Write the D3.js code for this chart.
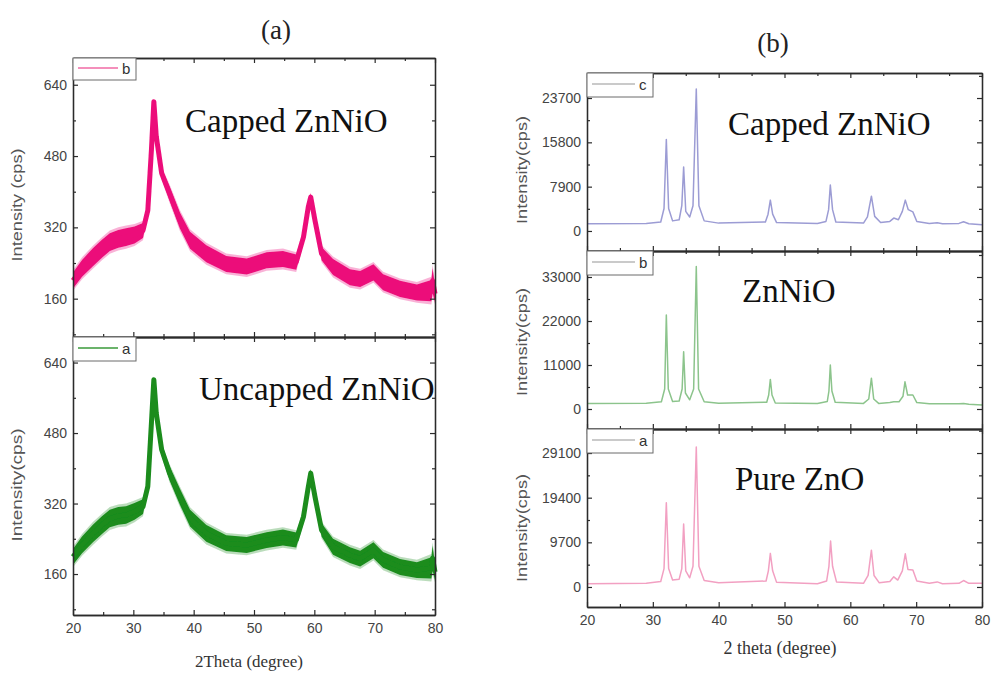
<!DOCTYPE html>
<html>
<head>
<meta charset="utf-8">
<script src="https://cdn.jsdelivr.net/npm/d3@7"></script>
<style>
  html, body { margin: 0; padding: 0; background: #fff; }
  svg { display: block; }
  .tick text { font-family: "Liberation Sans", Arial, sans-serif; }
</style>
</head>
<body>
<div id="chart"></div>
<script>
// ---- data ----
// left panel (a): broad, noisy patterns -> centre line + half thickness of the noise band
const leftTheta    = [20, 21.5, 23.3, 24.8, 26.1, 27.5, 28.8, 30.2, 31.6, 32.4, 33.0, 33.4, 33.8, 34.7, 36.0, 37.7, 39.4, 42.1, 45.4, 48.8, 52.1, 54.8, 57.0, 58.2, 59.0, 59.4, 60.1, 61.2, 63.1, 65.9, 67.6, 69.8, 71.4, 74.2, 77.0, 79.4, 79.6, 80];
const cappedMid    = [201, 228, 253, 272, 287, 294, 298, 303, 313, 358, 494, 602, 524, 441, 396, 336, 291, 261, 238, 232, 246, 249, 242, 298, 366, 388, 336, 261, 231, 208, 204, 219, 197, 182, 174, 178, 200, 171];
const uncappedMid  = [199, 226, 252, 271, 286, 292, 294, 302, 313, 359, 503, 601, 525, 442, 389, 336, 287, 252, 230, 226, 237, 243, 237, 290, 358, 389, 336, 260, 222, 203, 195, 214, 192, 176, 169, 174, 196, 165];
const bandHalf     = [18, 19, 20, 20, 20, 20, 20, 19, 17, 12, 8, 6, 8, 12, 16, 18, 19, 19, 18, 18, 18, 18, 17, 12, 10, 8, 10, 15, 18, 18, 18, 18, 18, 18, 18, 24, 28, 18];

// right panel (b): sharp crystalline patterns, [2theta, cps]
const cappedZnNiO = [[20,1300],[29,1350],[31.2,1600],[31.7,4000],[32.05,16300],[32.4,4000],[33.0,1800],[34.0,2000],[34.4,4500],[34.68,11400],[35.0,3500],[35.6,2500],[36.1,4500],[36.6,25300],[37.0,4500],[37.8,1800],[40,1400],[47.1,1600],[47.5,3000],[47.85,5500],[48.2,3000],[48.8,1500],[55,1350],[56.3,1700],[56.7,3800],[56.96,8200],[57.3,3800],[57.8,1600],[62,1400],[62.6,2500],[63.2,6200],[63.7,2600],[64.6,1500],[66.0,1700],[66.6,2300],[67.3,2000],[67.9,3500],[68.35,5500],[68.8,3800],[69.5,3400],[70.1,1700],[72,1350],[73.2,1450],[74,1300],[76.5,1350],[77.2,1650],[78,1300],[80,1100]];
const znNiO       = [[20,1400],[29,1450],[31.3,1800],[31.8,5000],[32.05,23500],[32.35,5000],[33.0,1900],[34.0,2000],[34.45,5000],[34.68,14300],[34.95,4000],[35.6,2300],[36.2,5000],[36.6,35600],[36.95,5000],[37.8,1800],[40,1450],[47.3,1700],[47.6,3500],[47.85,7400],[48.1,3500],[48.6,1500],[55,1400],[56.5,1900],[56.75,4500],[56.96,11000],[57.2,4500],[57.7,1700],[62,1400],[62.8,2500],[63.2,7700],[63.55,2500],[64.3,1400],[66,1600],[66.6,1800],[67.4,1800],[68.0,3200],[68.3,6800],[68.7,3500],[69.5,3500],[70.1,1600],[72,1300],[76.5,1300],[77.2,1400],[78,1200],[80,1000]];
const pureZnO     = [[20,700],[29,800],[31.2,1200],[31.7,4000],[32.05,18300],[32.4,4000],[33.0,1500],[34.0,1700],[34.4,4000],[34.68,13700],[35.0,3500],[35.6,2000],[36.1,4500],[36.6,30400],[37.0,4500],[37.8,1400],[40,900],[47.2,1300],[47.55,3500],[47.85,7300],[48.2,3500],[48.8,1000],[55,700],[56.4,1300],[56.75,4500],[57.0,10000],[57.3,4500],[57.9,1100],[62,800],[62.7,2500],[63.2,8000],[63.6,2500],[64.4,900],[66.0,1200],[66.6,2200],[67.2,1500],[67.9,3500],[68.35,7200],[68.75,3800],[69.5,3700],[70.1,1300],[72,800],[73.2,1100],[74,700],[76.5,800],[77.2,1400],[78,800],[80,800]];

// tick values
const xTicks       = [20, 30, 40, 50, 60, 70, 80];
const xMinor       = [25, 35, 45, 55, 65, 75];
const leftYTicks   = [160, 320, 480, 640];
const cappedYTicks = [0, 7900, 15800, 23700];
const znNiOYTicks  = [0, 11000, 22000, 33000];
const pureYTicks   = [0, 9700, 19400, 29100];

const W = 992, H = 673;
const svg = d3.select("#chart").append("svg")
  .attr("width", W)
  .attr("height", H)
  .attr("viewBox", `0 0 ${W} ${H}`);

// soft edge for the noisy bands
svg.append("defs").append("filter")
  .attr("id", "fuzz")
  .append("feGaussianBlur").attr("stdDeviation", 0.7);

const AXIS = "#2b2b2b";
const SERIF = "Liberation Serif";
const SANS = "Liberation Sans";

// one framed panel: scales, inward ticks on all four sides, optional x labels
function panel(o) {
  const x = d3.scaleLinear().domain([20, 80]).range([o.x0, o.x1]);
  const y = d3.scaleLinear().domain(o.yDomain).range([o.y1, o.y0]);
  const g = svg.append("g");
  const step = o.yTicks[1] - o.yTicks[0];
  const minorY = [o.yTicks[0] - step / 2].concat(o.yTicks.map(t => t + step / 2))
    .filter(v => v > o.yDomain[0] && v < o.yDomain[1]);

  function put(axis, tr, labels) {
    const a = g.append("g").attr("transform", tr).call(axis);
    a.select(".domain").attr("stroke", AXIS).attr("stroke-width", 1.3);
    a.selectAll(".tick line").attr("stroke", AXIS).attr("stroke-width", 1.2);
    if (!labels) a.selectAll(".tick text").remove();
    else a.selectAll(".tick text").attr("fill", "#444").style("font-size", "14px");
    return a;
  }
  // minor ticks first
  put(d3.axisBottom(x).tickValues(xMinor).tickSizeInner(-3).tickSizeOuter(0), `translate(0,${o.y1})`, false);
  put(d3.axisTop(x).tickValues(xMinor).tickSizeInner(-3).tickSizeOuter(0), `translate(0,${o.y0})`, false);
  put(d3.axisLeft(y).tickValues(minorY).tickSizeInner(-3).tickSizeOuter(0), `translate(${o.x0},0)`, false);
  put(d3.axisRight(y).tickValues(minorY).tickSizeInner(-3).tickSizeOuter(0), `translate(${o.x1},0)`, false);
  // majors
  put(d3.axisBottom(x).tickValues(xTicks).tickSizeInner(-5).tickSizeOuter(0).tickPadding(8).tickFormat(d3.format("d")),
      `translate(0,${o.y1})`, o.xLabels);
  put(d3.axisTop(x).tickValues(xTicks).tickSizeInner(-5).tickSizeOuter(0), `translate(0,${o.y0})`, false);
  put(d3.axisLeft(y).tickValues(o.yTicks).tickSizeInner(-5).tickSizeOuter(0).tickPadding(6).tickFormat(d3.format("d")),
      `translate(${o.x0},0)`, true);
  put(d3.axisRight(y).tickValues(o.yTicks).tickSizeInner(-5).tickSizeOuter(0), `translate(${o.x1},0)`, false);

  // y title
  g.append("text")
    .attr("transform", `translate(${o.yTitleX},${o.yTitleY}) rotate(-90)`)
    .attr("text-anchor", "middle")
    .attr("dominant-baseline", "middle")
    .attr("font-family", SANS)
    .attr("font-size", 14)
    .attr("fill", "#555")
    .attr("textLength", o.yTitleLen)
    .attr("lengthAdjust", "spacingAndGlyphs")
    .text(o.yTitle);

  // legend box
  const lg = g.append("g");
  lg.append("rect")
    .attr("x", o.x0).attr("y", o.y0)
    .attr("width", o.legW).attr("height", o.legH)
    .attr("fill", "#fff").attr("stroke", "#6a6a6a").attr("stroke-width", 1);
  lg.append("line")
    .attr("x1", o.x0 + 5).attr("x2", o.x0 + o.legW - 18)
    .attr("y1", o.y0 + o.legH / 2 - 1).attr("y2", o.y0 + o.legH / 2 - 1)
    .attr("stroke", o.color).attr("stroke-width", 1.5);
  lg.append("text")
    .attr("x", o.x0 + o.legW - 14).attr("y", o.y0 + o.legH / 2 + 5)
    .attr("font-family", SANS).attr("font-size", 15).attr("fill", "#333")
    .text(o.legLabel);

  // sample name
  g.append("text")
    .attr("x", o.nameX).attr("y", o.nameY)
    .attr("font-family", SERIF).attr("font-size", 33).attr("fill", "#111")
    .text(o.name);

  return { x, y, g };
}

// ---- (a) ----
const aTop = panel({
  x0: 73, x1: 435, y0: 58, y1: 337, yDomain: [74, 700],
  yTicks: leftYTicks, xLabels: false,
  yTitle: "Intensity (cps)", yTitleX: 18, yTitleY: 205, yTitleLen: 113,
  legW: 63, legH: 22, legLabel: "b", color: "#f06aa5",
  name: "Capped ZnNiO", nameX: 185, nameY: 132
});
const aBot = panel({
  x0: 73, x1: 435, y0: 337, y1: 615, yDomain: [67, 698],
  yTicks: leftYTicks, xLabels: true,
  yTitle: "Intensity(cps)", yTitleX: 18, yTitleY: 485, yTitleLen: 113,
  legW: 63, legH: 24, legLabel: "a", color: "#3a9a3a",
  name: "Uncapped ZnNiO", nameX: 199, nameY: 400
});

function band(p, mid, fill) {
  const rows = leftTheta.map((t, i) => ({ t, m: mid[i], h: bandHalf[i] }));
  const outer = d3.area()
    .x(d => p.x(d.t))
    .y0(d => p.y(d.m - d.h * 1.3))
    .y1(d => p.y(d.m + d.h * 1.3));
  const inner = d3.area()
    .x(d => p.x(d.t))
    .y0(d => p.y(d.m - d.h))
    .y1(d => p.y(d.m + d.h));
  const line = d3.line().x(d => p.x(d.t)).y(d => p.y(d.m));
  const layer = p.g.insert("g", ":first-child").attr("filter", "url(#fuzz)");
  layer.append("path").datum(rows).attr("d", outer)
    .attr("fill", fill).attr("opacity", 0.3);
  layer.append("path").datum(rows).attr("d", inner)
    .attr("fill", fill);
  // keeps the steep flanks of the peaks as thick as the flat parts
  layer.append("path").datum(rows).attr("d", line)
    .attr("fill", "none").attr("stroke", fill)
    .attr("stroke-width", 5).attr("stroke-linejoin", "round");
}
band(aTop, cappedMid, "#ec0f7a");
band(aBot, uncappedMid, "#1a8c1e");

svg.append("text")
  .attr("x", 249).attr("y", 667)
  .attr("text-anchor", "middle")
  .attr("font-family", SERIF).attr("font-size", 17).attr("fill", "#333")
  .text("2Theta (degree)");
svg.append("text")
  .attr("x", 276).attr("y", 39)
  .attr("text-anchor", "middle")
  .attr("font-family", SERIF).attr("font-size", 27).attr("fill", "#222")
  .text("(a)");

// ---- (b) ----
const bRows = [
  { data: cappedZnNiO, y0: 73,  y1: 251, dom: [-3570, 28160], ticks: cappedYTicks, color: "#9c9cd4", leg: "c",
    name: "Capped ZnNiO", nameX: 728, nameY: 135, xLabels: false, tY: 170 },
  { data: znNiO,       y0: 251, y1: 429, dom: [-5000, 39500], ticks: znNiOYTicks,  color: "#8cc48c", leg: "b",
    name: "ZnNiO", nameX: 742, nameY: 302, xLabels: false, tY: 342 },
  { data: pureZnO,     y0: 429, y1: 607, dom: [-4350, 34320], ticks: pureYTicks,   color: "#f2a0c2", leg: "a",
    name: "Pure ZnO", nameX: 735, nameY: 490, xLabels: true, tY: 528 }
];

bRows.forEach(r => {
  const p = panel({
    x0: 587, x1: 982, y0: r.y0, y1: r.y1, yDomain: r.dom,
    yTicks: r.ticks, xLabels: r.xLabels,
    yTitle: "Intensity(cps)", yTitleX: 523, yTitleY: r.tY, yTitleLen: 108,
    legW: 66, legH: 24, legLabel: r.leg, color: "#b8b8b8",
    name: r.name, nameX: r.nameX, nameY: r.nameY
  });
  const line = d3.line().x(d => p.x(d[0])).y(d => p.y(d[1]));
  p.g.insert("path", ":first-child")
    .datum(r.data)
    .attr("d", line)
    .attr("fill", "none")
    .attr("stroke", r.color)
    .attr("stroke-width", 1.5)
    .attr("stroke-linejoin", "round");
});

svg.append("text")
  .attr("x", 780).attr("y", 654)
  .attr("text-anchor", "middle")
  .attr("font-family", SERIF).attr("font-size", 18).attr("fill", "#333")
  .text("2 theta (degree)");
svg.append("text")
  .attr("x", 773).attr("y", 52)
  .attr("text-anchor", "middle")
  .attr("font-family", SERIF).attr("font-size", 27).attr("fill", "#222")
  .text("(b)");
</script>
</body>
</html>
